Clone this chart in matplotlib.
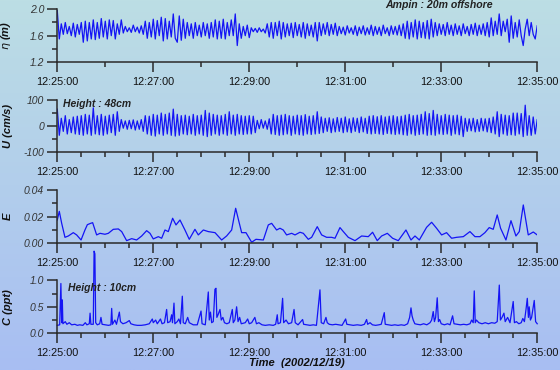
import numpy as np
import matplotlib
matplotlib.use("Agg")
import matplotlib.pyplot as plt
from matplotlib.ticker import FixedLocator, FuncFormatter

plt.rcParams["font.family"] = ["Liberation Sans", "DejaVu Sans"]

# sample clock for the wave records: seconds after 12:25:00, every 2.5 s
wave_t = np.arange(0, 600.1, 2.5)

eta = [
    1.98, 1.55, 1.78, 1.62, 1.80, 1.63, 1.74, 1.60, 1.79, 1.58, 1.77, 1.62, 1.80, 1.50, 1.82, 1.52, 1.80, 1.55, 1.84, 1.54,
    1.80, 1.56, 1.86, 1.58, 1.82, 1.55, 1.84, 1.60, 1.83, 1.55, 1.78, 1.62, 1.84, 1.64, 1.74, 1.66, 1.72, 1.65, 1.76, 1.66,
    1.73, 1.64, 1.75, 1.62, 1.82, 1.56, 1.80, 1.58, 1.85, 1.55, 1.83, 1.60, 1.88, 1.52, 1.86, 1.55, 1.82, 1.58, 1.93, 1.56,
    1.50, 1.90, 1.53, 1.85, 1.56, 1.80, 1.60, 1.78, 1.56, 1.80, 1.60, 1.76, 1.58, 1.80, 1.60, 1.78, 1.56, 1.80, 1.58, 1.84,
    1.55, 1.82, 1.56, 1.85, 1.55, 1.80, 1.60, 1.84, 1.60, 1.93, 1.45, 1.78, 1.56, 1.74, 1.60, 1.76, 1.57, 1.72, 1.66, 1.71,
    1.65, 1.72, 1.66, 1.70, 1.64, 1.78, 1.58, 1.80, 1.56, 1.80, 1.60, 1.82, 1.55, 1.80, 1.58, 1.78, 1.60, 1.79, 1.57, 1.80,
    1.60, 1.77, 1.58, 1.80, 1.56, 1.78, 1.60, 1.76, 1.58, 1.80, 1.52, 1.80, 1.60, 1.78, 1.62, 1.80, 1.60, 1.77, 1.62, 1.79,
    1.60, 1.74, 1.63, 1.73, 1.61, 1.75, 1.64, 1.72, 1.62, 1.75, 1.60, 1.73, 1.63, 1.75, 1.61, 1.72, 1.62, 1.76, 1.60, 1.74,
    1.62, 1.73, 1.60, 1.76, 1.63, 1.72, 1.60, 1.75, 1.62, 1.74, 1.61, 1.76, 1.60, 1.78, 1.56, 1.82, 1.55, 1.80, 1.58, 1.84,
    1.55, 1.82, 1.57, 1.80, 1.56, 1.83, 1.55, 1.85, 1.58, 1.80, 1.60, 1.78, 1.62, 1.77, 1.60, 1.80, 1.62, 1.76, 1.60, 1.78,
    1.62, 1.75, 1.60, 1.78, 1.63, 1.74, 1.60, 1.77, 1.62, 1.79, 1.60, 1.76, 1.62, 1.78, 1.60, 1.80, 1.58, 1.87, 1.60, 1.82,
    1.62, 1.93, 1.60, 1.82, 1.66, 1.85, 1.50, 1.90, 1.56, 1.80, 1.58, 1.84, 1.60, 1.45, 1.70, 1.85, 1.60, 1.80, 1.62, 1.55,
    1.75,
]

u_vel = [
    65, -35, 30, -20, 40, -30, 25, -25, 35, -30, 38, -32, 40, -35, 45, -30, 42, -35, 70, -30,
    40, -33, 45, -35, 38, -30, 42, -25, 45, -35, 55, -20, 25, -8, 20, -12, 22, -10, 24, -15,
    20, -12, 25, -20, 40, -30, 38, -35, 45, -38, 42, -30, 50, -35, 45, -30, 50, -35, 65, -38,
    45, -35, 40, -30, 42, -33, 38, -30, 45, -35, 40, -30, 42, -35, 60, -40, 50, -35, 45, -30,
    42, -35, 40, -30, 45, -35, 55, -30, 42, -35, 45, -30, 40, -32, 38, -30, 40, -30, 38, -25,
    22, -10, 25, -8, 20, -12, 28, -30, 45, -32, 40, -35, 42, -33, 45, -30, 40, -35, 38, -30,
    42, -33, 40, -35, 44, -30, 38, -32, 40, -30, 55, -28, 35, -25, 30, -20, 32, -25, 28, -22,
    33, -20, 30, -25, 35, -22, 28, -25, 32, -20, 30, -25, 35, -22, 30, -28, 38, -30, 40, -28,
    36, -30, 40, -32, 35, -28, 38, -30, 40, -32, 36, -30, 38, -33, 42, -35, 45, -30, 40, -35,
    42, -32, 45, -30, 55, -35, 48, -33, 60, -35, 45, -30, 40, -32, 45, -30, 42, -35, 40, -30,
    42, -33, 38, -40, 30, -20, 28, -18, 30, -22, 25, -20, 30, -18, 28, -22, 30, -25, 35, -30,
    55, -40, 45, -30, 42, -35, 40, -33, 50, -35, 50, -30, 48, -40, 80, -35, 40, -35, 35, -30,
    25,
]

# wave energy, read at irregular times (s)
e_t = [
    0, 2.5, 5.5, 9.6, 13.8, 20, 24.2, 29.7, 34.6, 37.6, 41.7, 44.2, 49.2, 53.4, 59.6, 63.8, 70, 76.3, 80.5, 86.7,
    93, 99.2, 105.5, 111.7, 115.9, 120, 126.3, 130.5, 134.6, 138.8, 144.2, 148.4, 153.4, 159.6, 165, 172.1, 176.3,
    182.6, 188.8, 197.2, 205.5, 211.7, 218, 223, 227.6, 230.5, 235.9, 243, 248.4, 257.6, 263.8, 268, 274.2, 278.4,
    282.5, 286.7, 293, 297.2, 303.4, 307.6, 313.8, 318, 325, 330.5, 336.7, 343, 347.2, 353.4, 357.6, 363.8, 372.2,
    380.5, 388.8, 394.2, 400, 405.5, 412.6, 419.2, 426.3, 435.9, 442.2, 447.2, 452.6, 461.7, 468, 474.2, 480.5,
    486.7, 493, 499.2, 507.6, 515.9, 522.2, 528.4, 534.6, 540, 545, 550, 554.2, 560.9, 567.2, 573.4, 577.6, 582.6,
    588.8, 595.1, 600,
]
e_val = [
    0.0175, 0.024, 0.015, 0.0045, 0.0055, 0.008, 0.0063, 0.0025, 0.010, 0.014, 0.015, 0.0155, 0.0063, 0.0075, 0.0068,
    0.0075, 0.0105, 0.0108, 0.0088, 0.002, 0.0035, 0.0025, 0.0055, 0.0095, 0.0075, 0.0033, 0.005, 0.0038, 0.010,
    0.0088, 0.0188, 0.0138, 0.0175, 0.010, 0.003, 0.0105, 0.0063, 0.010, 0.0088, 0.008, 0.0025, 0.0055, 0.010,
    0.0263, 0.015, 0.008, 0.008, 0.0008, 0.003, 0.0025, 0.0138, 0.015, 0.010, 0.0113, 0.010, 0.0063, 0.0075, 0.0063,
    0.0083, 0.0075, 0.003, 0.0045, 0.0125, 0.0063, 0.0045, 0.0045, 0.0038, 0.0118, 0.0088, 0.0045, 0.002, 0.0055,
    0.005, 0.0083, 0.002, 0.0055, 0.0075, 0.0038, 0.002, 0.010, 0.0025, 0.0055, 0.0025, 0.012, 0.0158, 0.0113,
    0.0063, 0.008, 0.0038, 0.0045, 0.005, 0.0088, 0.005, 0.005, 0.008, 0.0118, 0.0105, 0.0213, 0.0113, 0.0025,
    0.017, 0.0055, 0.0088, 0.0288, 0.0063, 0.0085, 0.0063,
]

# concentration record, read at irregular times (s)
c_t = [
    0, 3, 4.5, 5.5, 6.3, 7, 10, 12, 15, 18, 22, 25, 28, 32, 35, 37, 40, 41, 42, 45, 46, 47, 48, 50, 53, 54.6, 56,
    60, 64, 67, 68, 69, 72, 74, 77.6, 79, 82, 86, 90, 92, 96, 100, 105, 110, 115, 118.8, 120, 123, 125, 129, 131,
    134, 136.7, 138, 141, 143, 144, 145.9, 147, 150, 152, 154, 156.3, 157.5, 160, 163, 165, 170, 175, 179.7, 181,
    185, 188.8, 190, 191.5, 193, 195, 197.1, 198.4, 199.5, 201, 203.4, 205, 207, 209, 212, 215, 218.8, 220, 222,
    224.2, 226, 228, 230, 235, 238, 240, 243, 247, 249, 252, 256, 260, 265, 270, 273, 275, 276, 279, 281.7, 283,
    286, 289, 293, 296, 297.5, 301, 306.7, 308, 312, 316, 320, 324, 328.4, 330, 333, 335.9, 337.5, 340, 344, 348,
    352, 356, 360.5, 362, 366, 370, 375, 380, 384, 386.7, 388, 391, 394, 398, 402, 405, 408.8, 410, 414, 418, 422,
    426, 430, 434, 438, 440.5, 442.2, 443.5, 445, 447, 450, 454, 458, 462, 466, 468, 470, 471.5, 473, 475, 476.5,
    478, 480, 484, 488, 491, 494.2, 496, 500, 504, 508, 512, 516, 518, 520, 521.3, 522.5, 524, 527, 531, 535, 539,
    543, 547, 550, 552.6, 554, 556, 558.4, 560, 563, 566, 570, 571.5, 574, 577, 580, 582, 584, 586, 587.6, 589,
    590, 591.5, 593, 596.3, 598, 600,
]
c_val = [
    0.15, 0.16, 0.94, 0.20, 0.63, 0.18, 0.22, 0.17, 0.20, 0.16, 0.17, 0.15, 0.16, 0.15, 0.20, 0.16, 0.18, 0.38, 0.17,
    0.17, 1.55, 1.50, 0.20, 0.16, 0.18, 0.30, 0.17, 0.16, 0.15, 0.16, 0.47, 0.17, 0.25, 0.17, 0.40, 0.22, 0.18, 0.20,
    0.24, 0.18, 0.16, 0.15, 0.15, 0.16, 0.18, 0.27, 0.20, 0.25, 0.18, 0.27, 0.18, 0.20, 0.45, 0.20, 0.22, 0.35, 0.20,
    0.57, 0.18, 0.22, 0.27, 0.18, 0.70, 0.20, 0.18, 0.30, 0.20, 0.16, 0.16, 0.42, 0.18, 0.16, 0.78, 0.25, 0.40, 0.20,
    0.22, 0.83, 0.85, 0.30, 0.35, 0.45, 0.25, 0.30, 0.20, 0.18, 0.20, 0.45, 0.20, 0.25, 0.50, 0.22, 0.30, 0.18, 0.20,
    0.27, 0.18, 0.20, 0.30, 0.18, 0.20, 0.16, 0.15, 0.16, 0.15, 0.17, 0.35, 0.18, 0.20, 0.66, 0.20, 0.25, 0.18, 0.20,
    0.45, 0.20, 0.16, 0.26, 0.17, 0.16, 0.15, 0.16, 0.15, 0.82, 0.20, 0.18, 0.30, 0.20, 0.17, 0.16, 0.17, 0.16, 0.15,
    0.27, 0.17, 0.16, 0.15, 0.16, 0.15, 0.17, 0.26, 0.17, 0.20, 0.16, 0.15, 0.16, 0.17, 0.39, 0.17, 0.16, 0.15, 0.16,
    0.15, 0.16, 0.15, 0.18, 0.30, 0.48, 0.33, 0.25, 0.18, 0.17, 0.16, 0.18, 0.16, 0.20, 0.25, 0.41, 0.22, 0.30, 0.67,
    0.22, 0.26, 0.18, 0.16, 0.18, 0.16, 0.33, 0.18, 0.17, 0.16, 0.17, 0.16, 0.18, 0.25, 0.20, 0.80, 0.20, 0.25, 0.20,
    0.18, 0.20, 0.18, 0.20, 0.19, 0.22, 0.91, 0.25, 0.30, 0.38, 0.22, 0.30, 0.20, 0.60, 0.20, 0.22, 0.18, 0.20, 0.28,
    0.22, 0.45, 0.66, 0.30, 0.50, 0.25, 0.30, 0.62, 0.22, 0.18,
]

time_labels = ["12:25:00", "12:27:00", "12:29:00", "12:31:00", "12:33:00", "12:35:00"]
major_x = [0, 120, 240, 360, 480, 600]

LINE = "#1414f5"
AX = "#2a2a2a"

fig = plt.figure(figsize=(5.6, 3.7), dpi=100)

# vertical colour wash behind everything
bg = fig.add_axes([0, 0, 1, 1], zorder=-10)
top = np.array([188, 222, 228]) / 255
bot = np.array([168, 190, 243]) / 255
ramp = np.linspace(0, 1, 256)[:, None]
grad = top[None, :] * (1 - ramp) + bot[None, :] * ramp
bg.imshow(grad[:, None, :], aspect="auto", extent=[0, 1, 0, 1])
bg.set_axis_off()

left, width = 0.1023, 0.857
panels = [
    (0.8324, 0.1424),
    (0.5884, 0.1414),
    (0.3424, 0.1440),
    (0.0992, 0.1432),
]


def style(ax, ymin, ymax, yticks, yminor, fmt, minor_x_step):
    ax.set_facecolor("none")
    for side in ("top", "right"):
        ax.spines[side].set_visible(False)
    for side in ("left", "bottom"):
        ax.spines[side].set_color(AX)
        ax.spines[side].set_linewidth(1.1)
    ax.set_xlim(0, 600)
    ax.set_ylim(ymin, ymax)
    ax.xaxis.set_major_locator(FixedLocator(major_x))
    ax.xaxis.set_minor_locator(FixedLocator(np.arange(0, 601, minor_x_step)))
    ax.set_xticklabels(time_labels)
    ax.yaxis.set_major_locator(FixedLocator(yticks))
    ax.yaxis.set_minor_locator(FixedLocator(yminor))
    ax.yaxis.set_major_formatter(FuncFormatter(fmt))
    ax.tick_params(axis="both", which="major", length=7.5, width=1.1, color=AX)
    ax.tick_params(axis="both", which="minor", length=3.8, width=1.1, color=AX)
    ax.tick_params(axis="x", which="major", labelsize=7.8, pad=3, labelcolor="#111111")
    ax.tick_params(axis="y", which="major", labelsize=7.5, pad=2, labelcolor="#333333")
    for lab in ax.get_yticklabels():
        lab.set_fontstyle("italic")
    ax.yaxis.set_label_coords(-0.093, 0.5)


def ylab(ax, text):
    ax.set_ylabel(text, fontsize=8, fontweight="bold", fontstyle="italic", color="#111111")


ax1 = fig.add_axes([left, panels[0][0], width, panels[0][1]])
ax1.plot(wave_t, eta, color=LINE, lw=0.9)
style(ax1, 1.2, 2.0, [1.2, 1.6, 2.0], [1.4, 1.8], lambda v, p: f"{v:.1f}", 60)
ylab(ax1, r"$\eta$ (m)")

ax2 = fig.add_axes([left, panels[1][0], width, panels[1][1]])
ax2.plot(wave_t, u_vel, color=LINE, lw=0.9)
style(ax2, -100, 100, [-100, 0, 100], [-50, 50], lambda v, p: f"{v:.0f}", 30)
ylab(ax2, "U (cm/s)")
ax2.text(0.0125, 0.92, "Height : 48cm", transform=ax2.transAxes, fontsize=7.5,
         fontweight="bold", fontstyle="italic", color="#222222", va="center")

ax3 = fig.add_axes([left, panels[2][0], width, panels[2][1]])
ax3.plot(e_t, e_val, color=LINE, lw=0.9)
style(ax3, 0, 0.04, [0, 0.02, 0.04], [0.01, 0.03], lambda v, p: f"{v:.2f}", 30)
ylab(ax3, "E")

ax4 = fig.add_axes([left, panels[3][0], width, panels[3][1]], zorder=5)
ax4.plot(c_t, c_val, color=LINE, lw=0.9, clip_on=False)
style(ax4, 0, 1.0, [0, 0.5, 1.0], [0.25, 0.75], lambda v, p: f"{v:.1f}", 30)
ylab(ax4, "C (ppt)")
ax4.text(0.023, 0.85, "Height : 10cm", transform=ax4.transAxes, fontsize=7.5,
         fontweight="bold", fontstyle="italic", color="#222222", va="center")
ax4.set_xlabel("Time  (2002/12/19)", fontsize=8, fontweight="bold", fontstyle="italic",
               color="#111111", labelpad=0)

fig.text(0.688, 0.999, "Ampin : 20m offshore", fontsize=7.6, fontweight="bold",
         fontstyle="italic", color="#222222", va="top", ha="left")

fig.savefig("out.png", dpi=100)
